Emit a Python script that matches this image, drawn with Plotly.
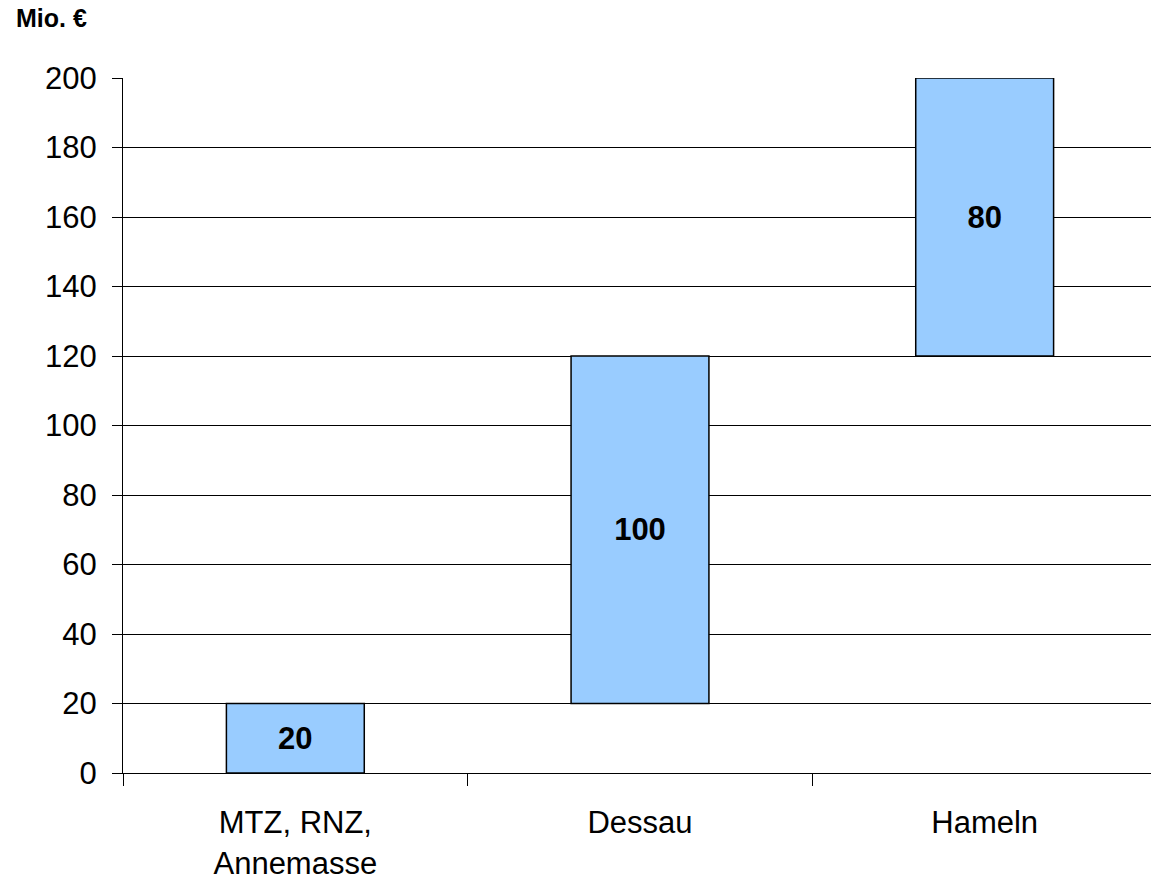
import plotly.graph_objects as go

categories = ["MTZ, RNZ,<br>Annemasse", "Dessau", "Hameln"]
bases = [0, 20, 120]
values = [20, 100, 80]
y_ticks = [0, 20, 40, 60, 80, 100, 120, 140, 160, 180, 200]

FONT = "Liberation Sans, Arial, sans-serif"

# the page body adds an 8px margin, so the figure is sized to fit inside it
fig = go.Figure(go.Bar(
    x=categories,
    y=values,
    base=bases,
    width=0.4,
    marker=dict(color="#99ccff", line=dict(color="#000000", width=1.5)),
    text=[str(v) for v in values],
    textposition="inside",
    insidetextanchor="middle",
    textfont=dict(family=FONT, size=31, color="#000000", weight="bold"),
    hoverinfo="skip",
))

fig.update_layout(
    width=1151,
    height=870,
    margin=dict(l=115, r=2, t=70, b=105),
    paper_bgcolor="white",
    plot_bgcolor="white",
    showlegend=False,
    font=dict(family=FONT, size=31, color="#000000"),
    annotations=[dict(
        text="<b>Mio. €</b>", xref="paper", yref="paper",
        x=-0.105, y=1.086, xanchor="left", yanchor="middle",
        showarrow=False, font=dict(size=25, family=FONT),
    )],
)
fig.update_yaxes(
    range=[0, 200], tickvals=y_ticks,
    showgrid=True, gridcolor="#000000", gridwidth=1,
    showline=True, linecolor="#000000", linewidth=1,
    ticks="outside", ticklen=10, tickcolor="#000000",
    ticklabelstandoff=9, zeroline=False, automargin=False,
    tickfont=dict(size=31),
)
fig.update_xaxes(
    range=[-0.5, 2.5],
    showline=True, linecolor="#000000", linewidth=1,
    ticks="outside", tickson="boundaries", ticklen=12, tickcolor="#000000",
    showgrid=False, ticklabelstandoff=22, automargin=False,
    tickfont=dict(size=31),
)

fig.write_html("out.html")
